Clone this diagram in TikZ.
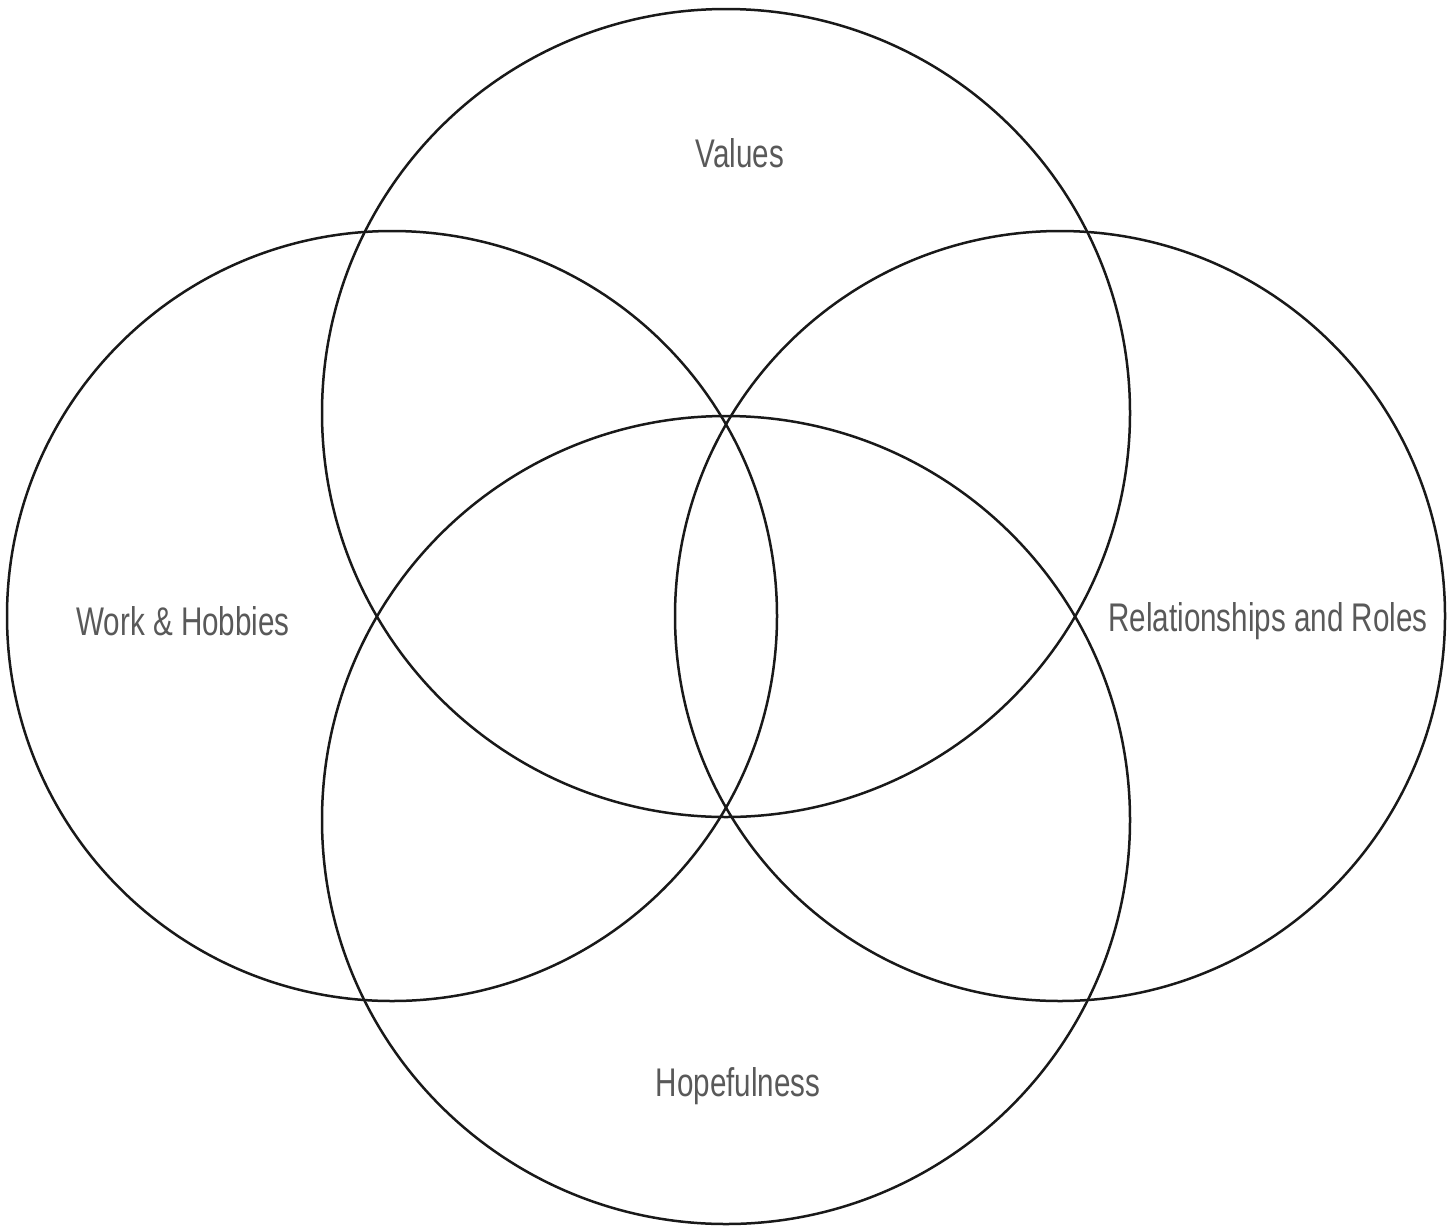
\documentclass[tikz,border=0pt]{standalone}
\usepackage{fontspec}
\setmainfont{Liberation Sans}
\usepackage{tikz}

\begin{document}
\begin{tikzpicture}[x=1pt,y=-1pt,
  ring/.style={line width=2.5pt, draw=black!90},
  lbl/.style={text=black!65, font=\fontsize{40}{48}\selectfont, xscale=0.74, transform shape}]

% Frame
\useasboundingbox (0,0) rectangle (1455,1226);

% Centres
\coordinate (top) at (726,413);
\coordinate (bot) at (726,820);
\coordinate (lft) at (392,616);
\coordinate (rgt) at (1060,616);

% Circles
\draw[ring] (top) circle[radius=404pt];
\draw[ring] (bot) circle[radius=404pt];
\draw[ring] (lft) circle[radius=385pt];
\draw[ring] (rgt) circle[radius=385pt];

% Labels
\node[lbl] (values) at (740,153) {Values};
\node[lbl] (work) at (183,621) {Work \& Hobbies};
\node[lbl] (rel) at (1268,621) {Relationships and Roles};
\node[lbl] (hope) at (738,1086) {Hopefulness};

\end{tikzpicture}
\end{document}
